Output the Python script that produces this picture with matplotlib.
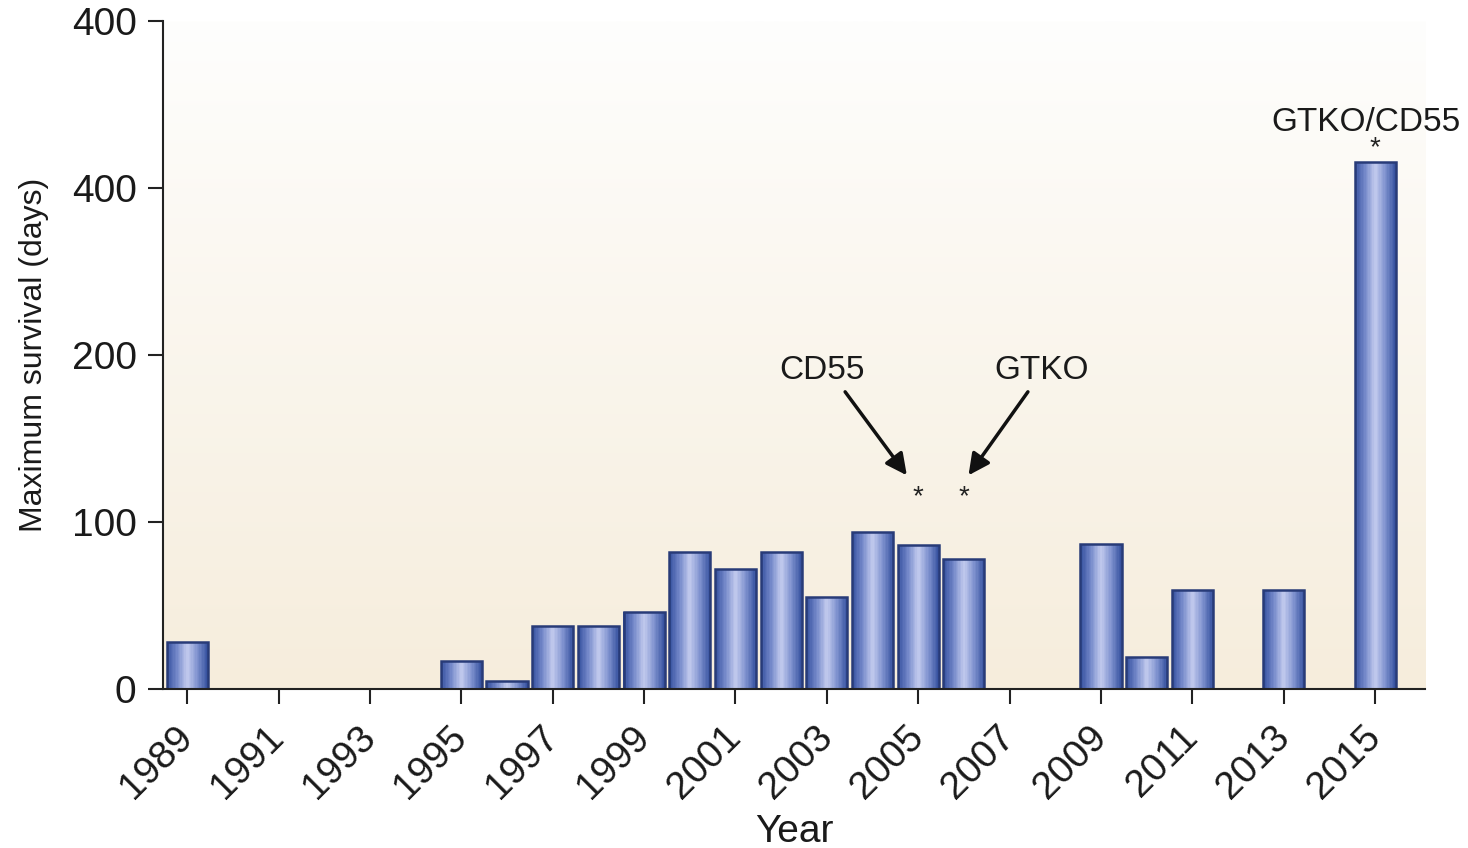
import numpy as np
import matplotlib
matplotlib.use("Agg")
import matplotlib.pyplot as plt
from matplotlib.colors import LinearSegmentedColormap

plt.rcParams['font.family'] = ['Liberation Sans', 'DejaVu Sans']

# Maximum survival (days) per year
years = list(range(1989, 2016))
survival = [28, 0, 0, 0, 0, 0, 17, 5, 38, 38, 46, 82, 72, 82, 55,
            94, 86, 78, 0, 0, 87, 19, 59, 0, 59, 0, 431]

tick_years = list(range(1989, 2016, 2))
ytick_values = [0, 100, 200, 400, 600]
ytick_labels = ['0', '100', '200', '400', '400']

# annotations: star year, star value
star_years = [2005, 2006, 2015]
star_values = [115, 115, 448]


def forward(v):
    """Broken axis: linear up to 200, half scale above."""
    v = np.asarray(v, dtype=float)
    return np.where(v <= 200, v, 200 + (v - 200) / 2)


def inverse(p):
    p = np.asarray(p, dtype=float)
    return np.where(p <= 200, p, 200 + (p - 200) * 2)


fig = plt.figure(figsize=(14.68, 8.48), dpi=100)
ax = fig.add_axes([0.111, 0.1875, 0.86, 0.7875])
ax.set_yscale('function', functions=(forward, inverse))

# background gradient, white at top to beige at bottom
bg = LinearSegmentedColormap.from_list('bg', ['#f6eddc', '#fefefd'])
grad = np.linspace(0, 1, 256).reshape(-1, 1)
ax.imshow(grad, cmap=bg, origin='lower', aspect='auto',
          extent=[0, 1, 0, 1], transform=ax.transAxes, zorder=0)

# bars with horizontal cylinder shading
shade = LinearSegmentedColormap.from_list(
    'bar', ['#34509e', '#7488c9', '#c3cbee', '#7f92cf', '#34509e'])
width = 0.9
nstrip = 30
edges = np.linspace(-width / 2, width / 2, nstrip + 1)
for yr, val in zip(years, survival):
    if val <= 0:
        continue
    for i in range(nstrip):
        c = shade((i + 0.5) / nstrip)
        ax.bar(yr + (edges[i] + edges[i + 1]) / 2, val,
               width=(edges[1] - edges[0]) * 1.05, color=c,
               linewidth=0, zorder=2)
    ax.bar(yr, val, width=width, facecolor='none',
           edgecolor='#283b78', linewidth=1.8, zorder=3)

ax.set_xlim(1988.47, 2016.1)
ax.set_ylim(0, 600)
ax.set_xticks(tick_years)
ax.set_xticklabels([str(y) for y in tick_years], rotation=45,
                   ha='right', va='center', rotation_mode='anchor')
ax.set_yticks(ytick_values)
ax.set_yticklabels(ytick_labels)
ax.yaxis.set_minor_locator(plt.NullLocator())

for side in ['top', 'right']:
    ax.spines[side].set_visible(False)
for side in ['left', 'bottom']:
    ax.spines[side].set_linewidth(1.5)
    ax.spines[side].set_color('#222222')
    ax.spines[side].set_zorder(4)
ax.tick_params(axis='both', length=11, width=1.5, color='#222222',
               labelsize=28, labelcolor='#1a1a1a', pad=8)
ax.tick_params(axis='x', pad=20)

ax.set_xlabel('Year', fontsize=28, color='#1a1a1a', labelpad=6)
ax.set_ylabel('Maximum survival (days)', fontsize=23, color='#1a1a1a',
              labelpad=16)

# stars
for yr, val in zip(star_years, star_values):
    ax.text(yr, val, '*', ha='center', va='center', fontsize=20,
            color='#222222', zorder=5)

# annotations
arrow = dict(arrowstyle='-|>', lw=2.5, color='#111111', mutation_scale=32,
             shrinkA=0, shrinkB=0)
ax.annotate('', xy=(2004.75, 128), xytext=(2003.4, 178), arrowprops=arrow)
ax.annotate('', xy=(2006.1, 128), xytext=(2007.4, 178), arrowprops=arrow)
ax.text(2002.9, 191, 'CD55', ha='center', va='center', fontsize=24,
        color='#1a1a1a')
ax.text(2007.7, 191, 'GTKO', ha='center', va='center', fontsize=24,
        color='#1a1a1a')
ax.text(2014.8, 479, 'GTKO/CD55', ha='center', va='center', fontsize=24,
        color='#1a1a1a')

fig.savefig('out.png', dpi=100)
